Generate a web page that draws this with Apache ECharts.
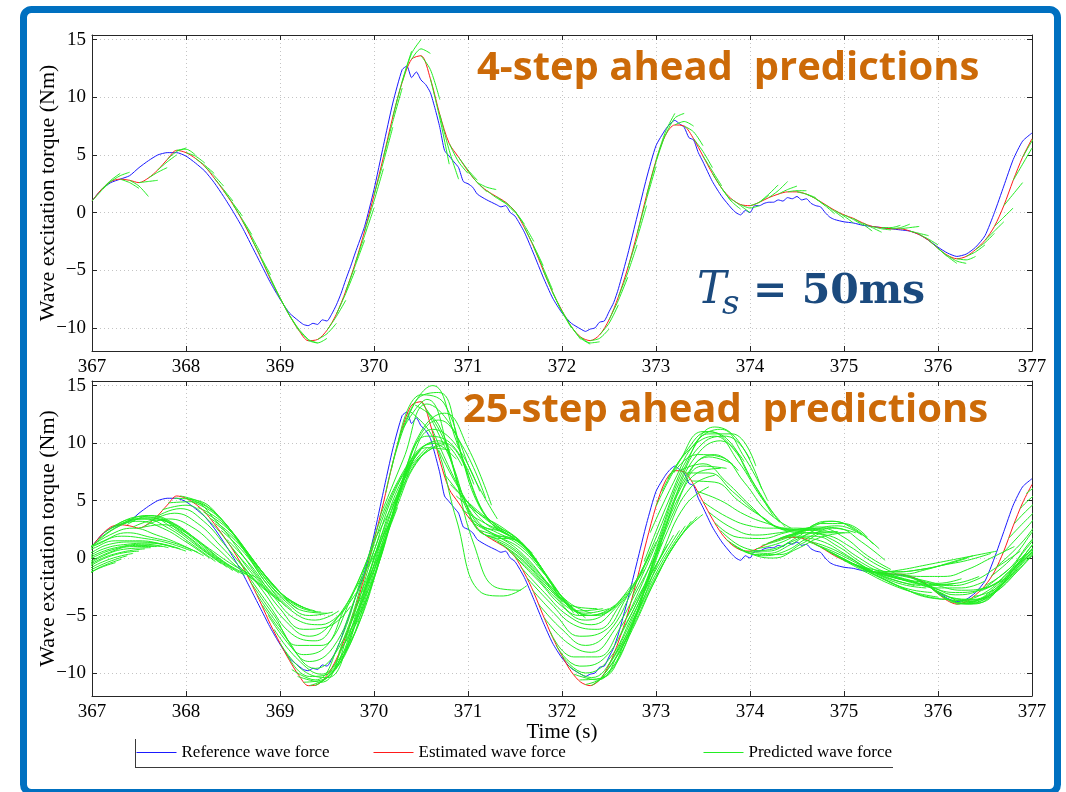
<!DOCTYPE html>
<html>
<head>
<meta charset="utf-8">
<script src="https://cdn.jsdelivr.net/npm/echarts@6/dist/echarts.min.js"></script>
<style>
  html, body { margin: 0; padding: 0; background: #fff; }
  #main { width: 1066px; height: 792px; }
</style>
</head>
<body>
<div id="main"></div>
<script>
// 参考波浪力 (blue) — time / value pairs
const refTime = [
  367.0, 367.1, 367.2, 367.3, 367.4, 367.5, 367.6, 367.7, 367.8, 367.9,
  368.0, 368.1, 368.2, 368.3, 368.4, 368.5, 368.6, 368.7, 368.8, 368.9,
  369.0, 369.1, 369.2, 369.25, 369.3, 369.35, 369.4, 369.45, 369.5, 369.55,
  369.6, 369.65, 369.7, 369.75, 369.8, 369.9, 370.0, 370.1, 370.2, 370.3,
  370.35, 370.4, 370.45, 370.5, 370.55, 370.6, 370.65, 370.7, 370.75, 370.8,
  370.85, 370.9, 370.95, 371.0, 371.05, 371.1, 371.2, 371.3, 371.35, 371.4,
  371.45, 371.5, 371.6, 371.7, 371.8, 371.9, 372.0, 372.1, 372.2, 372.25,
  372.3, 372.35, 372.4, 372.45, 372.5, 372.55, 372.6, 372.7, 372.8, 372.9,
  373.0, 373.1, 373.15, 373.2, 373.25, 373.3, 373.35, 373.4, 373.45, 373.5,
  373.6, 373.7, 373.8, 373.85, 373.9, 373.95, 374.0, 374.05, 374.1, 374.15,
  374.2, 374.25, 374.3, 374.35, 374.4, 374.45, 374.5, 374.55, 374.6, 374.65,
  374.7, 374.75, 374.8, 374.85, 374.9, 375.0, 375.1, 375.2, 375.3, 375.4,
  375.5, 375.6, 375.7, 375.8, 375.9, 376.0, 376.1, 376.2, 376.3, 376.4,
  376.5, 376.6, 376.7, 376.8, 376.9, 377.0
];
const refForce = [
  1.0, 2.0, 2.6, 2.9, 3.2, 3.9, 4.5, 5.0, 5.2, 5.2,
  4.9, 4.3, 3.6, 2.6, 1.4, 0.1, -1.3, -2.9, -4.5, -6.1,
  -7.5, -8.7, -9.4, -9.7, -9.8, -9.6, -9.7, -9.3, -9.4, -8.8,
  -8.0, -7.0, -5.8, -4.7, -3.5, -1.2, 2.0, 5.8, 9.5, 12.4,
  12.7, 11.7, 12.2, 11.5, 11.1, 10.4, 9.0, 7.4, 5.4, 4.9,
  4.4, 3.9, 2.7, 2.5, 2.2, 1.6, 1.1, 0.7, 0.5, 0.6,
  0.0, -0.3, -1.7, -3.6, -5.6, -7.4, -8.7, -9.6, -10.1, -10.3,
  -10.1, -10.0, -9.5, -9.4, -8.6, -7.8, -6.6, -3.6, -0.3, 3.0,
  5.8, 7.2, 7.7, 8.0, 7.7, 7.4, 6.5, 6.3, 5.2, 4.4,
  2.7, 1.4, 0.4, 0.0, -0.2, 0.2, 0.0, 0.6, 0.6, 0.8,
  0.9, 0.9, 1.1, 1.0, 1.3, 1.2, 1.4, 1.1, 1.2, 0.8,
  0.6, 0.5, 0.0, -0.4, -0.6, -0.8, -0.9, -1.1, -1.2, -1.3,
  -1.4, -1.5, -1.6, -1.9, -2.4, -3.0, -3.5, -3.8, -3.6, -3.0,
  -2.0, 0.0, 2.3, 4.6, 6.2, 6.9
];

// 估计波浪力 (red), sampled every 0.1 s from 367 s
const estStart = 367.0;
const estStep = 0.1;
const estForce = [
  1.0, 2.0, 2.7, 2.9, 2.8, 2.6, 3.0, 3.7, 4.6, 5.4,
  5.2, 4.7, 4.0, 3.0, 1.9, 0.7, -0.7, -2.3, -4.0, -5.8,
  -7.4, -8.9, -10.2, -11.1, -11.0, -10.2, -8.8, -6.8, -4.4, -1.6,
  1.5, 4.8, 8.3, 11.3, 13.3, 13.6, 11.6, 8.5, 6.0, 4.8,
  3.6, 2.6, 1.9, 1.4, 0.9, 0.1, -1.3, -3.0, -5.0, -6.9,
  -8.5, -9.9, -10.8, -11.1, -10.6, -9.3, -7.3, -4.8, -1.8, 1.5,
  4.5, 6.7, 7.6, 7.5, 6.4, 4.9, 3.4, 2.1, 1.2, 0.7,
  0.6, 0.9, 1.3, 1.6, 1.8, 1.8, 1.6, 1.2, 0.7, 0.2,
  -0.2, -0.5, -0.9, -1.2, -1.3, -1.4, -1.4, -1.6, -1.9, -2.4,
  -3.1, -3.7, -4.0, -3.8, -3.2, -2.4, -1.2, 0.6, 2.8, 4.8,
  6.4
];

// 4步预测: [start time, value at +0, +0.1 s, +0.2 s]
const pred4Step = 0.1;
const pred4 = [
  [367.0, 1.0, 1.9, 2.7], [367.1, 2.0, 2.8, 3.4], [367.2, 2.7, 3.2, 3.5], [367.3, 2.9, 2.6, 2.1],
  [367.4, 2.8, 2.3, 1.4], [367.5, 2.6, 2.7, 2.8], [367.6, 3.0, 3.5, 3.9], [367.7, 3.7, 4.4, 5.0],
  [367.8, 4.6, 5.3, 5.6], [367.9, 5.4, 5.5, 5.0], [368.0, 5.2, 4.9, 4.3], [368.1, 4.7, 4.1, 3.4],
  [368.2, 4.0, 3.2, 2.3], [368.3, 3.0, 2.0, 1.0], [368.4, 1.9, 0.8, -0.3], [368.5, 0.7, -0.6, -1.9],
  [368.6, -0.7, -2.1, -3.6], [368.7, -2.3, -3.9, -5.4], [368.8, -4.0, -5.7, -7.4], [368.9, -5.8, -7.4, -8.9],
  [369.0, -7.4, -8.9, -10.2], [369.1, -8.9, -10.1, -11.0], [369.2, -10.2, -11.0, -11.3], [369.3, -11.1, -11.3, -10.9],
  [369.4, -11.0, -10.5, -9.6], [369.5, -10.2, -9.0, -7.6], [369.6, -8.8, -7.0, -5.0], [369.7, -6.8, -4.6, -2.4],
  [369.8, -4.4, -2.0, 0.4], [369.9, -1.6, 1.0, 3.8], [370.0, 1.5, 4.4, 7.4], [370.1, 4.8, 7.9, 10.8],
  [370.2, 8.3, 11.4, 14.0], [370.3, 11.3, 13.8, 15.0], [370.4, 13.3, 14.2, 13.8], [370.5, 13.6, 12.4, 9.8],
  [370.6, 11.6, 8.2, 4.2], [370.7, 8.5, 5.4, 2.9], [370.8, 6.0, 4.4, 3.4], [370.9, 4.8, 3.7, 2.8],
  [371.0, 3.6, 2.6, 1.8], [371.1, 2.6, 2.2, 2.0], [371.2, 1.9, 1.3, 0.8], [371.3, 1.4, 0.8, 0.0],
  [371.4, 0.9, 0.1, -1.0], [371.5, 0.1, -1.1, -2.5], [371.6, -1.3, -2.9, -4.6], [371.7, -3.0, -4.8, -6.7],
  [371.8, -5.0, -6.9, -8.6], [371.9, -6.9, -8.6, -10.0], [372.0, -8.5, -9.9, -11.0], [372.1, -9.9, -10.9, -11.4],
  [372.2, -10.8, -11.3, -11.2], [372.3, -11.1, -10.9, -10.1], [372.4, -10.6, -9.6, -8.0], [372.5, -9.3, -7.6, -5.6],
  [372.6, -7.3, -5.2, -2.8], [372.7, -4.8, -2.2, 0.6], [372.8, -1.8, 1.2, 4.0], [372.9, 1.5, 4.4, 6.8],
  [373.0, 4.5, 7.0, 8.6], [373.1, 6.7, 8.2, 8.6], [373.2, 7.6, 7.9, 7.5], [373.3, 7.5, 7.0, 5.8],
  [373.4, 6.4, 5.3, 3.9], [373.5, 4.9, 3.6, 2.3], [373.6, 3.4, 2.1, 1.0], [373.7, 2.1, 1.0, 0.3],
  [373.8, 1.2, 0.6, 0.0], [373.9, 0.7, 0.4, 0.6], [374.0, 0.6, 0.9, 1.5], [374.1, 0.9, 1.6, 2.4],
  [374.2, 1.3, 1.9, 2.7], [374.3, 1.6, 2.0, 2.3], [374.4, 1.8, 1.9, 1.9], [374.5, 1.8, 1.6, 1.3],
  [374.6, 1.6, 1.2, 0.6], [374.7, 1.2, 0.6, -0.1], [374.8, 0.7, 0.1, -0.5], [374.9, 0.2, -0.3, -0.9],
  [375.0, -0.2, -0.6, -1.1], [375.1, -0.5, -1.0, -1.6], [375.2, -0.9, -1.3, -1.7], [375.3, -1.2, -1.4, -1.5],
  [375.4, -1.3, -1.3, -1.1], [375.5, -1.4, -1.3, -1.0], [375.6, -1.4, -1.3, -1.2], [375.7, -1.6, -1.8, -2.0],
  [375.8, -1.9, -2.3, -2.8], [375.9, -2.4, -3.1, -3.8], [376.0, -3.1, -3.8, -4.4], [376.1, -3.7, -4.2, -4.4],
  [376.2, -4.0, -4.1, -3.8], [376.3, -3.8, -3.4, -2.8], [376.4, -3.2, -2.6, -1.8], [376.5, -2.4, -1.6, -0.8],
  [376.6, -1.2, -0.4, 0.4], [376.7, 0.6, 1.6, 2.6], [376.8, 2.8, 4.2, 5.6], [376.9, 4.8, 6.2, 7.4]
];

// 25步预测: [start time, value at +0, +0.25, +0.5, +0.75, +1.0, +1.25 s]
const pred25Step = 0.25;
const pred25 = [
  [366.000, -3.0, -4.5, -4.0, -2.8, -1.2, -0.4], [366.125, -2.5, -3.5, -3.0, -1.6, -0.5, 0.2],
  [366.250, -2.0, -2.8, -2.0, -0.6, 0.3, 0.6], [366.375, -1.5, -2.0, -1.0, 0.2, 0.8, 0.9],
  [366.500, -1.0, -1.2, 0.0, 0.8, 1.1, 1.0], [366.625, -0.5, -0.2, 0.8, 1.2, 1.3, 0.9],
  [366.750, 0.0, 0.8, 1.5, 1.5, 1.2, 0.6], [366.875, 0.5, 1.5, 2.2, 1.8, 1.3, 0.5],
  [367.000, 1.0, 2.6, 3.2, 2.6, 1.4, 0.0], [367.125, 2.2, 3.2, 3.5, 2.5, 1.0, -0.5],
  [367.250, 2.8, 3.6, 3.3, 2.0, 0.4, -1.1], [367.375, 2.9, 3.7, 3.0, 1.5, -0.2, -1.5],
  [367.500, 2.6, 2.9, 2.2, 0.8, -0.6, -1.7], [367.625, 3.2, 3.9, 3.0, 1.0, -1.2, -3.0],
  [367.750, 4.2, 4.6, 3.2, 0.8, -1.8, -3.8], [367.875, 5.2, 5.0, 3.4, 0.6, -2.4, -4.5],
  [368.000, 5.2, 4.3, 2.2, -0.6, -3.0, -4.3], [368.125, 4.4, 3.2, 0.8, -1.8, -3.8, -4.6],
  [368.250, 3.5, 1.9, -0.6, -3.0, -4.6, -4.8], [368.375, 2.4, 0.4, -2.4, -4.6, -5.4, -4.6],
  [368.500, 0.7, -1.6, -4.4, -6.2, -6.0, -4.2], [368.625, -1.1, -4.0, -6.6, -7.2, -5.0, -1.6],
  [368.750, -3.1, -6.0, -8.4, -7.6, -3.6, 1.4], [368.875, -5.0, -7.8, -9.6, -7.8, -2.8, 2.6],
  [369.000, -7.4, -9.8, -10.4, -6.8, -1.0, 4.4], [369.125, -9.7, -10.6, -7.5, -1.5, 4.5, 8.4],
  [369.250, -10.8, -10.4, -5.8, 0.6, 6.3, 9.4], [369.375, -11.1, -9.3, -3.8, 2.6, 7.6, 9.8],
  [369.500, -10.2, -7.4, -1.6, 4.6, 8.8, 9.9], [369.625, -8.2, -4.6, 1.8, 7.8, 10.0, 8.6],
  [369.750, -5.6, -1.6, 5.0, 9.6, 10.0, 7.2], [369.875, -3.0, 1.8, 8.0, 11.2, 9.8, 5.8],
  [370.000, 1.5, 5.6, 11.0, 12.6, 9.6, 4.6], [370.125, 5.7, 12.5, 15.0, 10.2, 4.4, 2.4],
  [370.250, 9.8, 14.2, 13.4, 7.2, 3.0, 1.8], [370.375, 12.8, 10.5, 3.4, -2.9, -3.3, -2.4],
  [370.500, 13.6, 10.2, 4.0, 1.8, 1.6, -0.6], [370.625, 11.1, 6.6, 3.0, 2.2, 0.8, -2.2],
  [370.750, 7.3, 4.8, 3.0, 1.8, -0.6, -3.8], [370.875, 5.4, 3.8, 2.6, 0.9, -2.0, -4.8],
  [371.000, 3.6, 2.2, 1.4, -0.6, -3.4, -5.2], [371.125, 2.4, 1.6, 0.0, -2.4, -4.2, -4.4],
  [371.250, 1.7, 0.6, -1.4, -3.6, -4.8, -4.4], [371.375, 1.1, -0.6, -2.8, -4.6, -5.0, -3.8],
  [371.500, 0.1, -2.0, -4.2, -5.4, -4.6, -2.2], [371.625, -1.7, -3.9, -5.8, -6.2, -4.0, -1.0],
  [371.750, -4.0, -6.2, -7.6, -6.4, -2.8, 1.4], [371.875, -6.4, -8.6, -8.6, -6.0, -2.4, 1.2],
  [372.000, -8.5, -10.0, -8.8, -5.0, -1.0, 2.4], [372.125, -10.1, -10.6, -7.8, -3.6, 0.2, 3.2],
  [372.250, -11.0, -10.0, -6.2, -1.8, 1.8, 3.8], [372.375, -10.8, -8.0, -3.0, 2.4, 6.2, 7.2],
  [372.500, -9.3, -5.6, 0.2, 5.4, 8.0, 7.8], [372.625, -6.7, -2.4, 3.4, 7.8, 9.0, 7.6],
  [372.750, -3.3, 1.2, 6.6, 10.0, 10.6, 8.6], [372.875, -0.3, 4.8, 9.2, 11.4, 10.2, 6.0],
  [373.000, 4.5, 8.4, 11.0, 10.4, 7.0, 3.6], [373.125, 6.9, 9.6, 10.6, 8.4, 5.2, 2.7],
  [373.250, 7.6, 8.2, 6.6, 4.6, 2.8, 2.2], [373.375, 6.7, 6.6, 5.0, 3.6, 2.5, 2.4],
  [373.500, 4.9, 3.6, 2.8, 2.6, 2.6, 2.4], [373.625, 3.1, 1.8, 1.7, 2.2, 2.6, 2.2],
  [373.750, 1.6, 0.4, 0.0, 0.8, 1.8, 2.2], [373.875, 0.9, 0.2, 0.6, 1.8, 2.6, 2.2],
  [374.000, 0.6, 0.8, 1.8, 3.0, 3.0, 1.8], [374.125, 1.1, 1.7, 2.6, 3.2, 2.4, 0.8],
  [374.250, 1.5, 2.2, 2.6, 1.8, 0.2, -1.0], [374.375, 1.8, 2.2, 1.6, 0.2, -1.0, -1.8],
  [374.500, 1.8, 1.5, 0.4, -0.9, -1.8, -2.4], [374.625, 1.4, 0.6, -0.4, -1.5, -2.3, -2.6],
  [374.750, 1.0, -0.2, -1.3, -2.3, -3.0, -3.4], [374.875, 0.45, -0.6, -1.6, -2.6, -3.4, -3.6],
  [375.000, -0.2, -1.0, -1.6, -2.0, -2.2, -1.8], [375.125, -0.6, -1.3, -1.4, -1.0, -0.4, 0.2],
  [375.250, -1.1, -1.6, -2.2, -2.6, -2.6, -2.0], [375.375, -1.3, -1.0, -0.6, -0.2, 0.2, 0.6],
  [375.500, -1.4, -1.8, -2.4, -2.8, -2.6, -1.6], [375.625, -1.5, -2.0, -2.4, -2.0, -0.8, 0.6],
  [375.750, -1.75, -2.9, -3.6, -3.0, -1.2, 0.8], [375.875, -2.3, -3.4, -3.6, -2.4, -0.4, 1.4],
  [376.000, -3.1, -3.9, -3.4, -1.8, 0.4, 2.0], [376.125, -3.8, -4.0, -2.9, -0.9, 1.2, 2.6],
  [376.250, -3.95, -3.6, -1.6, 0.8, 2.6, 3.0], [376.375, -3.35, -2.6, -0.2, 2.2, 3.4, 3.2],
  [376.500, -2.4, -1.0, 1.6, 3.6, 4.0, 3.0], [376.625, -0.75, 1.2, 3.6, 5.0, 4.4, 2.8],
  [376.750, 1.7, 3.8, 5.6, 5.6, 4.0, 2.0], [376.875, 4.3, 6.0, 6.4, 5.0, 3.0, 1.0]
];
// 中间起点的25步预测 (same layout)
const pred25Mid = [
  [366.0625, -2.8, -4.0, -3.5, -2.2, -0.9, -0.1], [366.1875, -2.3, -3.2, -2.5, -1.1, -0.1, 0.4],
  [366.3125, -1.8, -2.4, -1.5, -0.2, 0.5, 0.8], [366.4375, -1.2, -1.6, -0.5, 0.5, 1.0, 1.0],
  [366.5625, -0.8, -0.7, 0.4, 1.0, 1.2, 0.9], [366.6875, -0.2, 0.3, 1.2, 1.4, 1.3, 0.8],
  [366.8125, 0.2, 1.2, 1.9, 1.7, 1.3, 0.6], [366.9375, 0.7, 2.0, 2.6, 2.0, 1.2, 0.2],
  [367.0625, 1.6, 2.9, 3.4, 2.6, 1.2, -0.3], [367.1875, 2.5, 3.4, 3.4, 2.3, 0.7, -0.8],
  [367.3125, 2.9, 3.7, 3.2, 1.8, 0.1, -1.3], [367.4375, 2.7, 3.3, 2.6, 1.1, -0.5, -1.6],
  [367.5625, 2.8, 3.4, 2.7, 1.0, -0.9, -2.4], [367.6875, 3.6, 4.3, 3.2, 0.9, -1.5, -3.4],
  [367.8125, 4.8, 4.9, 3.3, 0.7, -2.1, -4.2], [367.9375, 5.4, 4.7, 2.8, 0.0, -2.7, -4.4],
  [368.0625, 4.9, 3.8, 1.5, -1.2, -3.4, -4.5], [368.1875, 4.0, 2.6, 0.1, -2.4, -4.2, -4.7],
  [368.3125, 3.0, 1.2, -1.5, -3.8, -5.0, -4.7], [368.4375, 1.6, -0.6, -3.4, -5.4, -5.8, -4.4],
  [368.5625, -0.2, -2.8, -5.5, -6.8, -5.6, -3.0], [368.6875, -2.1, -5.0, -7.6, -7.6, -4.4, 0.0],
  [368.8125, -4.1, -6.9, -9.0, -7.8, -3.2, 2.0], [368.9375, -6.2, -8.8, -10.1, -7.4, -2.0, 3.6],
  [369.0625, -8.2, -10.3, -9.8, -5.2, 1.5, 6.6], [369.1875, -10.3, -10.8, -6.8, -0.4, 5.4, 9.0],
  [369.3125, -11.1, -9.9, -4.8, 1.6, 7.0, 9.6], [369.4375, -10.8, -8.5, -2.8, 3.6, 8.2, 9.9],
  [369.5625, -9.5, -6.2, -0.2, 6.2, 9.6, 9.4], [369.6875, -7.0, -3.2, 3.4, 8.8, 10.2, 8.0],
  [369.8125, -4.2, 0.2, 6.8, 10.6, 10.0, 6.4], [369.9375, -0.8, 3.6, 9.8, 12.0, 9.8, 5.2],
  [370.0625, 3.6, 8.6, 13.4, 11.6, 7.0, 3.4], [370.1875, 7.8, 13.6, 14.4, 8.8, 3.6, 2.0],
  [370.3125, 11.3, 13.8, 8.6, 1.2, -2.6, -2.8], [370.4375, 13.3, 11.6, 5.6, 2.0, 1.8, 0.4],
  [370.5625, 12.8, 8.6, 3.4, 2.2, 1.2, -1.4], [370.6875, 9.4, 5.6, 3.0, 2.0, 0.2, -3.0],
  [370.8125, 6.4, 4.4, 2.8, 1.4, -1.2, -4.2], [370.9375, 4.2, 3.0, 2.0, 0.2, -2.8, -5.0],
  [371.0625, 3.0, 1.9, 0.8, -1.4, -3.8, -4.8], [371.1875, 2.0, 1.1, -0.7, -3.0, -4.6, -4.4],
  [371.3125, 1.4, 0.0, -2.1, -4.1, -5.0, -4.1], [371.4375, 0.6, -1.3, -3.5, -5.0, -4.8, -3.0],
  [371.5625, -0.8, -3.0, -5.0, -5.8, -4.4, -1.6], [371.6875, -2.8, -5.0, -6.8, -6.4, -3.4, 0.4],
  [371.8125, -5.2, -7.4, -8.2, -6.2, -2.6, 1.3], [371.9375, -7.6, -9.4, -8.8, -5.6, -1.6, 2.0],
  [372.0625, -9.3, -10.4, -8.4, -4.4, -0.4, 2.8], [372.1875, -10.6, -10.4, -7.0, -2.8, 1.0, 3.6],
  [372.3125, -11.1, -9.2, -4.6, 0.4, 4.6, 6.2], [372.4375, -10.2, -7.0, -1.4, 4.0, 7.4, 7.8],
  [372.5625, -8.4, -4.0, 1.8, 6.8, 8.8, 8.2], [372.6875, -5.2, -0.6, 5.0, 9.0, 10.2, 8.4],
  [372.8125, -1.8, 3.0, 8.0, 10.8, 10.8, 8.0], [372.9375, 2.2, 6.6, 10.2, 11.2, 8.8, 5.0],
  [373.0625, 5.8, 9.2, 11.0, 9.6, 6.2, 3.1], [373.1875, 7.4, 9.0, 8.8, 6.6, 4.0, 2.6],
  [373.3125, 7.4, 7.4, 5.8, 4.0, 2.6, 2.3], [373.4375, 5.8, 5.0, 3.8, 3.0, 2.5, 2.4],
  [373.5625, 4.0, 2.6, 2.0, 2.2, 2.5, 2.2], [373.6875, 2.4, 0.9, 0.6, 1.4, 2.2, 2.3],
  [373.8125, 1.2, 0.3, 0.3, 1.3, 2.2, 2.2], [373.9375, 0.6, 0.4, 1.2, 2.4, 2.8, 2.0],
  [374.0625, 0.8, 1.3, 2.3, 3.2, 2.8, 1.2], [374.1875, 1.3, 2.0, 2.7, 2.6, 1.4, -0.2],
  [374.3125, 1.7, 2.2, 2.0, 1.0, -0.4, -1.4], [374.4375, 1.9, 1.9, 1.0, -0.4, -1.4, -2.0],
  [374.5625, 1.6, 1.0, 0.0, -1.2, -2.0, -2.4], [374.6875, 1.2, 0.2, -0.9, -1.9, -2.7, -3.0],
  [374.8125, 0.7, -0.4, -1.4, -2.4, -3.2, -3.6], [374.9375, 0.1, -0.8, -1.5, -2.0, -2.4, -2.2],
  [375.0625, -0.4, -1.0, -1.2, -1.0, -0.6, 0.0], [375.1875, -0.8, -1.5, -2.0, -2.3, -2.2, -1.6],
  [375.3125, -1.2, -1.2, -1.0, -0.6, -0.2, 0.4], [375.4375, -1.4, -1.9, -2.6, -3.0, -2.8, -1.8],
  [375.5625, -1.4, -1.6, -1.6, -1.0, 0.0, 1.0], [375.6875, -1.6, -2.5, -3.2, -2.8, -1.4, 0.4],
  [375.8125, -2.0, -3.2, -3.8, -3.0, -0.8, 1.2], [375.9375, -2.7, -3.7, -3.6, -2.2, 0.0, 1.8],
  [376.0625, -3.5, -4.0, -3.2, -1.4, 0.8, 2.4], [376.1875, -4.0, -3.9, -2.3, 0.0, 2.0, 2.8],
  [376.3125, -3.8, -3.2, -0.9, 1.6, 3.0, 3.2], [376.4375, -2.9, -1.8, 0.8, 3.0, 3.8, 3.2],
  [376.5625, -1.6, 0.2, 2.8, 4.4, 4.2, 3.0], [376.6875, 0.4, 2.6, 4.8, 5.6, 4.4, 2.4],
  [376.8125, 3.0, 5.0, 6.2, 5.4, 3.6, 1.4], [376.9375, 5.6, 6.6, 6.0, 4.4, 2.4, 0.6]
];

const names = ['Reference wave force', 'Estimated wave force', 'Predicted wave force'];
const colors = ['#1a1aff', '#ff1a1a', '#22ee22'];

const serif = "'Liberation Serif', 'Times New Roman', serif";
const axisColor = '#262626';

const chart = echarts.init(document.getElementById('main'), null, { renderer: 'canvas' });

function minusSign(v) {
  return String(v).replace('-', '\u2212');
}

function xAxisFor(grid, pos, main, name) {
  return {
    type: 'value', gridIndex: grid, position: pos,
    min: 367, max: 377, interval: 1,
    axisLine: { show: true, onZero: false, lineStyle: { color: axisColor, width: 1 } },
    axisTick: { show: true, inside: true, length: 5, lineStyle: { color: axisColor } },
    axisLabel: { show: main, color: '#000', fontFamily: serif, fontSize: 19, margin: 7 },
    splitLine: { show: main, lineStyle: { color: '#c4c4c4', type: [1, 3], width: 1 } },
    name: name || '', nameLocation: 'middle', nameGap: 26, nameMoveOverlap: false,
    nameTextStyle: { color: '#000', fontFamily: serif, fontSize: 21 }
  };
}

function yAxisFor(grid, pos, main) {
  return {
    type: 'value', gridIndex: grid, position: pos,
    min: -12, max: 15.4,
    axisLine: { show: true, onZero: false, lineStyle: { color: axisColor, width: 1 } },
    axisTick: { show: true, inside: true, length: 5, lineStyle: { color: axisColor } },
    axisLabel: {
      show: main, color: '#000', fontFamily: serif, fontSize: 19, margin: 6,
      formatter: v => (v % 5 === 0 ? minusSign(v) : '')
    },
    splitLine: { show: main, lineStyle: { color: '#c4c4c4', type: [1, 3], width: 1 } },
    name: main ? 'Wave excitation torque (Nm)' : '', nameLocation: 'middle',
    nameGap: 33, nameMoveOverlap: false,
    nameTextStyle: { color: '#000', fontFamily: serif, fontSize: 22 }
  };
}

function line(name, data, color, axisIdx, smooth, z) {
  return {
    name: name, type: 'line', xAxisIndex: axisIdx, yAxisIndex: axisIdx,
    data: data, symbol: 'none', showSymbol: false, smooth: smooth,
    lineStyle: { color: color, width: 1 }, itemStyle: { color: color },
    silent: true, z: z
  };
}

const refData = refTime.map((t, i) => [t, refForce[i]]);
const estData = estForce.map((v, i) => [+(estStart + i * estStep).toFixed(3), v]);

const series = [];
// 上下两个子图, axis index 0 = top, 2 = bottom
[0, 2].forEach(ax => {
  series.push(line(names[0], refData, colors[0], ax, 0.2, 2));
  series.push(line(names[1], estData, colors[1], ax, 0.3, 3));
});
pred4.forEach(p => {
  const seg = p.slice(1).map((v, k) => [+(p[0] + k * pred4Step).toFixed(4), v]);
  series.push(line(names[2], seg, colors[2], 0, 0.3, 4));
});
pred25.concat(pred25Mid).forEach(p => {
  const seg = p.slice(1).map((v, k) => [+(p[0] + k * pred25Step).toFixed(4), v]);
  series.push(line(names[2], seg, colors[2], 2, 0.45, 4));
});

const legendText = { fontFamily: serif, fontSize: 17, color: '#000' };
function legendAt(i, left) {
  return {
    data: [{ name: names[i], lineStyle: { color: colors[i], width: 1 }, itemStyle: { opacity: 0 } }],
    left: left, top: 744, itemWidth: 40, itemHeight: 14, itemGap: 0,
    padding: 0, selectedMode: false, textStyle: legendText
  };
}

const orange = '#cc6a08';
const navy = '#1b4a7e';

const option = {
  animation: false,
  backgroundColor: '#fff',
  grid: [
    { left: 92, top: 35, width: 940, height: 316 },
    { left: 92, top: 381, width: 940, height: 315 }
  ],
  xAxis: [
    xAxisFor(0, 'bottom', true), xAxisFor(0, 'top', false),
    xAxisFor(1, 'bottom', true, 'Time (s)'), xAxisFor(1, 'top', false)
  ],
  yAxis: [
    yAxisFor(0, 'left', true), yAxisFor(0, 'right', false),
    yAxisFor(1, 'left', true), yAxisFor(1, 'right', false)
  ],
  legend: [
    legendAt(0, 136),
    legendAt(1, 373),
    legendAt(2, 703)
  ],
  title: [
    { text: '4-step ahead  predictions', left: 477, top: 49, padding: 0,
      textStyle: { fontFamily: "'Open Sans', sans-serif", fontWeight: 'bold', fontSize: 40, color: orange } },
    { text: '25-step ahead  predictions', left: 463, top: 391, padding: 0,
      textStyle: { fontFamily: "'Open Sans', sans-serif", fontWeight: 'bold', fontSize: 40, color: orange } },
    { text: 'T', left: 697, top: 270, padding: 0,
      textStyle: { fontFamily: "'DejaVu Serif', serif", fontStyle: 'italic', fontWeight: 'normal', fontSize: 44, color: navy } },
    { text: 's', left: 722, top: 288, padding: 0,
      textStyle: { fontFamily: "'DejaVu Serif', serif", fontStyle: 'italic', fontWeight: 'normal', fontSize: 34, color: navy } },
    { text: '= 50ms', left: 753, top: 272, padding: 0,
      textStyle: { fontFamily: "'DejaVu Serif', serif", fontWeight: 'bold', fontSize: 41, color: navy } }
  ],
  graphic: [
    { type: 'rect', silent: true, z: 100,
      shape: { x: 23.5, y: 9.5, width: 1034, height: 783, r: 8 },
      style: { fill: 'none', stroke: '#0070c0', lineWidth: 7 } },
    { type: 'line', silent: true,
      shape: { x1: 135.5, y1: 739, x2: 135.5, y2: 768 },
      style: { stroke: '#3a3a3a', lineWidth: 1 } },
    { type: 'line', silent: true,
      shape: { x1: 135, y1: 767.5, x2: 893, y2: 767.5 },
      style: { stroke: '#3a3a3a', lineWidth: 1 } }
  ],
  series: series
};

chart.setOption(option);
</script>
</body>
</html>
